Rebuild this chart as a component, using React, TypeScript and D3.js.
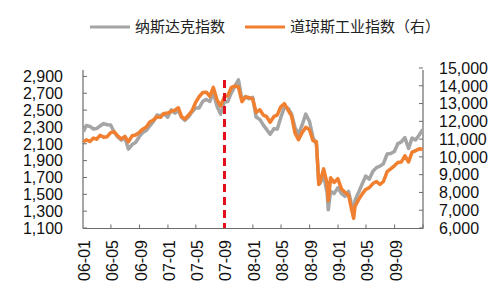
import React, { useEffect, useRef } from 'react';
import * as d3 from 'd3';

// semi-monthly points, 2006-01 .. 2009-12
const dates = [
  '2006-01-03', '2006-01-15', '2006-01-31', '2006-02-15', '2006-02-28', '2006-03-15', '2006-03-31',
  '2006-04-15', '2006-04-30', '2006-05-15', '2006-05-31', '2006-06-15', '2006-06-30', '2006-07-15',
  '2006-07-31', '2006-08-15', '2006-08-31', '2006-09-15', '2006-09-30', '2006-10-15', '2006-10-31',
  '2006-11-15', '2006-11-30', '2006-12-15', '2006-12-31', '2007-01-15', '2007-01-31', '2007-02-15',
  '2007-02-28', '2007-03-15', '2007-03-31', '2007-04-15', '2007-04-30', '2007-05-15', '2007-05-31',
  '2007-06-15', '2007-06-30', '2007-07-15', '2007-07-31', '2007-08-15', '2007-08-31', '2007-09-15',
  '2007-09-30', '2007-10-15', '2007-10-31', '2007-11-15', '2007-11-30', '2007-12-15', '2007-12-31',
  '2008-01-15', '2008-01-31', '2008-02-15', '2008-02-29', '2008-03-15', '2008-03-31', '2008-04-15',
  '2008-04-30', '2008-05-15', '2008-05-31', '2008-06-15', '2008-06-30', '2008-07-15', '2008-07-31',
  '2008-08-15', '2008-08-31', '2008-09-15', '2008-09-30', '2008-10-10', '2008-10-15', '2008-10-31',
  '2008-11-15', '2008-11-20', '2008-11-30', '2008-12-15', '2008-12-31', '2009-01-15', '2009-01-31',
  '2009-02-15', '2009-02-28', '2009-03-09', '2009-03-15', '2009-03-31', '2009-04-15', '2009-04-30',
  '2009-05-15', '2009-05-31', '2009-06-15', '2009-06-30', '2009-07-15', '2009-07-31', '2009-08-15',
  '2009-08-31', '2009-09-15', '2009-09-30', '2009-10-15', '2009-10-31', '2009-11-15', '2009-11-30',
  '2009-12-15', '2009-12-31',
];

const nasdaq = [
  2243, 2317, 2306, 2276, 2281, 2311, 2340,
  2326, 2323, 2238, 2179, 2144, 2172, 2037,
  2091, 2115, 2184, 2235, 2258, 2311, 2367,
  2442, 2432, 2457, 2415, 2502, 2464, 2497,
  2416, 2378, 2422, 2480, 2525, 2526, 2605,
  2627, 2603, 2707, 2546, 2452, 2596, 2601,
  2702, 2781, 2859, 2618, 2661, 2635, 2652,
  2417, 2389, 2322, 2271, 2212, 2279, 2275,
  2413, 2533, 2523, 2454, 2293, 2215, 2326,
  2452, 2368, 2179, 2092, 1649, 1628, 1721,
  1516, 1316, 1536, 1508, 1577, 1511, 1476,
  1535, 1378, 1268, 1431, 1528, 1626, 1717,
  1680, 1774, 1817, 1835, 1863, 1979, 1985,
  2009, 2103, 2122, 2173, 2045, 2167, 2145,
  2201, 2269,
];

const dow = [
  10847, 10960, 10864, 11058, 10993, 11210, 11109,
  11137, 11367, 11410, 11168, 11015, 11150, 10846,
  11186, 11230, 11381, 11560, 11679, 11960, 12081,
  12251, 12222, 12446, 12463, 12556, 12622, 12765,
  12269, 12133, 12354, 12612, 13063, 13383, 13628,
  13640, 13409, 13907, 13212, 12861, 13358, 13442,
  13896, 13984, 13930, 13110, 13372, 13339, 13265,
  12501, 12650, 12348, 12266, 11951, 12263, 12362,
  12820, 12992, 12638, 12307, 11350, 10963, 11378,
  11659, 11544, 10917, 10851, 8451, 8578, 9325,
  8497, 7552, 8829, 8565, 8776, 8212, 8001,
  7850, 7063, 6547, 7223, 7609, 7921, 8168,
  8268, 8500, 8613, 8447, 8616, 9172, 9321,
  9496, 9683, 9712, 10063, 9713, 10270, 10345,
  10452, 10428,
];

const leftTicks = [1100, 1300, 1500, 1700, 1900, 2100, 2300, 2500, 2700, 2900];
const rightTicks = [6000, 7000, 8000, 9000, 10000, 11000, 12000, 13000, 14000, 15000];
const xTickLabels = ['06-01', '06-05', '06-09', '07-01', '07-05', '07-09', '08-01', '08-05', '08-09', '09-01', '09-05', '09-09'];
const markerDate = '2007-09-01';
const legendNames = ['纳斯达克指数', '道琼斯工业指数（右）'];

const W = 500;
const H = 300;
const GRAY = '#a5a5a5';
const ORANGE = '#f07f30';
const FONT = '"Liberation Sans", Arial, sans-serif';

export default function App() {
  const ref = useRef<SVGSVGElement>(null);

  useEffect(() => {
    if (!ref.current) return;
    const svg = d3.select(ref.current);
    svg.selectAll('*').remove();

    const parse = d3.timeParse('%Y-%m-%d');
    const x = d3.scaleTime()
      .domain([new Date(2006, 0, 1), new Date(2010, 0, 1)])
      .range([83, 423]);
    const yL = d3.scaleLinear().domain([1100, 3000]).range([228, 68]);
    const yR = d3.scaleLinear().domain([6000, 15000]).range([228, 68]);

    const pts = dates.map((d, i) => ({ t: parse(d) as Date, n: nasdaq[i], d: dow[i] }));

    // axes lines
    const axisColor = '#6b6b6b';
    svg.append('line').attr('x1', 83).attr('x2', 83).attr('y1', 70).attr('y2', 228.5)
      .attr('stroke', axisColor).attr('stroke-width', 1.2);
    svg.append('line').attr('x1', 423).attr('x2', 423).attr('y1', 70).attr('y2', 228.5)
      .attr('stroke', axisColor).attr('stroke-width', 1.2);
    svg.append('line').attr('x1', 83).attr('x2', 423).attr('y1', 228.5).attr('y2', 228.5)
      .attr('stroke', axisColor).attr('stroke-width', 1.2);

    // left ticks
    leftTicks.forEach(v => {
      svg.append('line').attr('x1', 83).attr('x2', 87).attr('y1', yL(v)).attr('y2', yL(v))
        .attr('stroke', axisColor);
      svg.append('text').attr('x', 63).attr('y', yL(v)).attr('dy', '0.36em')
        .attr('text-anchor', 'end').attr('font-family', FONT).attr('font-size', 16)
        .attr('fill', '#111').text(d3.format(',')(v));
    });

    // right ticks
    rightTicks.forEach(v => {
      svg.append('line').attr('x1', 419).attr('x2', 423).attr('y1', yR(v)).attr('y2', yR(v))
        .attr('stroke', axisColor);
      svg.append('text').attr('x', 439).attr('y', yR(v)).attr('dy', '0.36em')
        .attr('text-anchor', 'start').attr('font-family', FONT).attr('font-size', 16)
        .attr('fill', '#111').text(d3.format(',')(v));
    });

    // x ticks every 4 months
    const xt = d3.timeMonth.every(4)!.range(new Date(2006, 0, 1), new Date(2010, 0, 2));
    xt.forEach((t, i) => {
      const px = x(t);
      if (i > 0) {
        svg.append('line').attr('x1', px).attr('x2', px).attr('y1', 224.5).attr('y2', 228.5)
          .attr('stroke', axisColor);
      }
      if (i < xTickLabels.length) {
        svg.append('text')
          .attr('transform', `translate(${px + 7},240) rotate(-90)`)
          .attr('text-anchor', 'end').attr('font-family', FONT).attr('font-size', 16)
          .attr('fill', '#111').text(xTickLabels[i]);
      }
    });

    const lineN = d3.line<typeof pts[0]>().x(p => x(p.t)).y(p => yL(p.n));
    const lineD = d3.line<typeof pts[0]>().x(p => x(p.t)).y(p => yR(p.d));

    svg.append('path').datum(pts).attr('d', lineN).attr('fill', 'none')
      .attr('stroke', GRAY).attr('stroke-width', 3.5).attr('stroke-linejoin', 'round');
    svg.append('path').datum(pts).attr('d', lineD).attr('fill', 'none')
      .attr('stroke', ORANGE).attr('stroke-width', 3.5).attr('stroke-linejoin', 'round');

    // marker line
    const mx = x(parse(markerDate) as Date);
    svg.append('line').attr('x1', mx).attr('x2', mx).attr('y1', 80).attr('y2', 228)
      .attr('stroke', '#e3101c').attr('stroke-width', 3).attr('stroke-dasharray', '8,5');

    // legend
    const legend = [
      { x: 90, color: GRAY, name: legendNames[0] },
      { x: 245, color: ORANGE, name: legendNames[1] },
    ];
    legend.forEach(l => {
      svg.append('line').attr('x1', l.x).attr('x2', l.x + 40).attr('y1', 27).attr('y2', 27)
        .attr('stroke', l.color).attr('stroke-width', 3);
      svg.append('text').attr('x', l.x + 45).attr('y', 27).attr('dy', '0.35em')
        .attr('font-family', '"Noto Sans CJK SC", sans-serif').attr('font-size', 15)
        .attr('fill', '#222').text(l.name);
    });
  }, []);

  return (
    <svg ref={ref} width={W} height={H}
      style={{ position: 'absolute', left: 0, top: 0, background: '#fff' }} />
  );
}
